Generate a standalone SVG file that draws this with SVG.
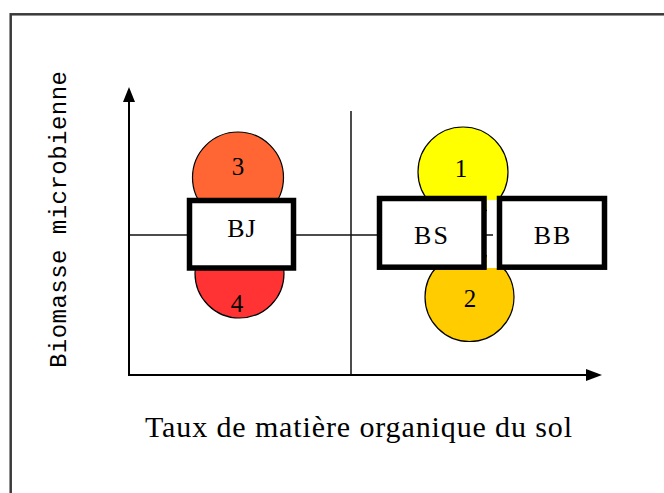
<svg xmlns="http://www.w3.org/2000/svg" width="664" height="493" viewBox="0 0 664 493">
<style>
.circ{stroke:#000;stroke-width:1.2}
.box{fill:#fff;stroke:#000;stroke-width:5.5}
.lbl{font-family:"Liberation Serif","Times New Roman",serif;font-size:26px;fill:#000;text-anchor:middle}
.num{font-family:"Liberation Serif","Times New Roman",serif;font-size:25px;fill:#000;text-anchor:middle}
.ax{stroke:#000;stroke-width:2;fill:none}
.thin{stroke:#111;stroke-width:1.5;fill:none}
</style>
<rect x="0" y="0" width="664" height="493" fill="#fff"/>
<rect x="10.7" y="14.3" width="700" height="600" fill="none" stroke="#3a3a3a" stroke-width="2.5"/>
<g id="connectors">
<line class="thin" x1="351" y1="111" x2="351" y2="375"/>
<line class="thin" x1="129" y1="235" x2="493" y2="235"/>
<line class="ax" x1="129" y1="100" x2="129" y2="375"/>
<line class="ax" x1="128" y1="375" x2="588" y2="375"/>
<polygon points="129,87 123,102 135,102" fill="#000"/>
<polygon points="602,375 586,369 586,381" fill="#000"/>
</g>
<g id="c3"><circle class="circ" cx="238" cy="177.5" r="45.5" fill="#FF6633"/><text class="num" x="238" y="175">3</text></g>
<g id="c4"><circle class="circ" cx="239.5" cy="273.5" r="44.5" fill="#FF3333"/><text class="num" x="237" y="312">4</text></g>
<g id="c1"><circle class="circ" cx="463" cy="172" r="45" fill="#FFFF00"/><text class="num" x="461" y="177">1</text></g>
<g id="c2"><circle class="circ" cx="469.5" cy="297" r="44.5" fill="#FFCC00"/><text class="num" x="470" y="307">2</text></g>
<rect x="487" y="200" width="10" height="68" fill="#fff"/>
<line class="thin" x1="487" y1="235" x2="493" y2="235"/>
<g id="BJ"><rect class="box" x="189.5" y="200.5" width="104" height="67.5"/><text class="lbl" x="242" y="237" letter-spacing="1">BJ</text></g>
<g id="BS"><rect class="box" x="379.5" y="198.5" width="104.5" height="68.7"/><text class="lbl" x="432" y="244" letter-spacing="2">BS</text></g>
<g id="BB"><rect class="box" x="499.5" y="198.5" width="105" height="68.7"/><text class="lbl" x="553" y="244" letter-spacing="2">BB</text></g>
<text x="145" y="437" font-family="Liberation Serif,'Times New Roman',serif" font-size="30" textLength="427" lengthAdjust="spacing" fill="#000">Taux de matière organique du sol</text>
<text transform="translate(66,368) rotate(-90)" x="0" y="0" font-family="Liberation Mono,'Courier New',monospace" font-size="24" textLength="297" lengthAdjust="spacing" fill="#000">Biomasse microbienne</text>
</svg>
